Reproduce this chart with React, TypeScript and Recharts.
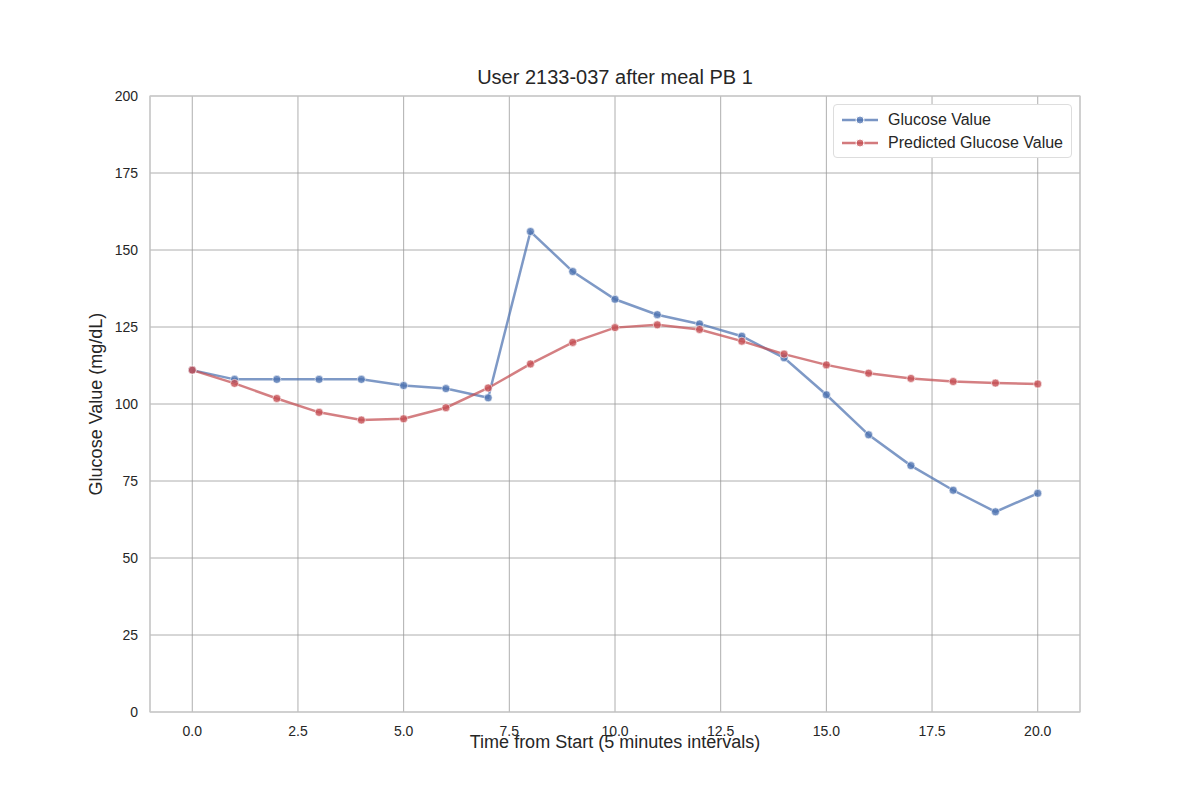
import { CartesianGrid, Line, LineChart, XAxis, YAxis } from "recharts";

const STEPS = [0, 1, 2, 3, 4, 5, 6, 7, 8, 9, 10, 11, 12, 13, 14, 15, 16, 17, 18, 19, 20];
const GLUCOSE = [111, 108, 108, 108, 108, 106, 105, 102, 156, 143, 134, 129, 126, 122, 115, 103, 90, 80, 72, 65, 71];
const PREDICTED = [111, 106.7, 101.8, 97.3, 94.8, 95.2, 98.8, 105.2, 113, 120, 124.8, 125.7, 124.2, 120.4, 116.2, 112.7, 110, 108.3, 107.3, 106.8, 106.5];
const X_TICKS = [0, 2.5, 5, 7.5, 10, 12.5, 15, 17.5, 20];
const Y_TICKS = [0, 25, 50, 75, 100, 125, 150, 175, 200];

const data = STEPS.map((t, i) => ({ t, glucose: GLUCOSE[i], predicted: PREDICTED[i] }));

const FONT = "Arial, 'Liberation Sans', sans-serif";
const TICK = { fill: "#262626", fontSize: 14, fontFamily: FONT };
const BLUE = "#4c72b0";
const RED = "#c44e52";

export default function App() {
  return (
    <div style={{ position: "absolute", left: 0, top: 0, width: 1200, height: 800, background: "#fff", fontFamily: FONT }}>
      <div style={{ position: "absolute", top: 66, width: 1200, textAlign: "center", left: 15, fontSize: 20, color: "#262626" }}>
        User 2133-037 after meal PB 1
      </div>
      <LineChart width={1200} height={800} data={data} margin={{ top: 96, right: 120, bottom: 58, left: 0 }}>
        <CartesianGrid stroke="#9a9a9a" strokeWidth={0.8} />
        <XAxis
          dataKey="t"
          type="number"
          domain={[-1, 21]}
          ticks={X_TICKS}
          tickFormatter={(v) => v.toFixed(1)}
          tick={TICK}
          tickLine={false}
          axisLine={false}
          tickMargin={8}
          height={30}
          label={{ value: "Time from Start (5 minutes intervals)", position: "insideBottom", offset: -6, style: { fill: "#262626", fontSize: 18, fontFamily: FONT } }}
        />
        <YAxis
          domain={[0, 200]}
          ticks={Y_TICKS}
          tick={TICK}
          tickLine={false}
          axisLine={false}
          tickMargin={6}
          width={150}
          label={{ value: "Glucose Value (mg/dL)", angle: -90, position: "insideLeft", offset: 96, style: { fill: "#262626", fontSize: 18, fontFamily: FONT, textAnchor: "middle" } }}
        />
        <rect x={150} y={96} width={930} height={616} fill="none" stroke="#cccccc" strokeWidth={1.2} />
        <Line
          dataKey="glucose"
          stroke={BLUE}
          strokeOpacity={0.72}
          strokeWidth={2.5}
          dot={{ r: 4, fill: BLUE, fillOpacity: 0.8, stroke: "#fff", strokeWidth: 0.8 }}
          isAnimationActive={false}
        />
        <Line
          dataKey="predicted"
          stroke={RED}
          strokeOpacity={0.72}
          strokeWidth={2.5}
          dot={{ r: 4, fill: RED, fillOpacity: 0.8, stroke: "#fff", strokeWidth: 0.8 }}
          isAnimationActive={false}
        />
      </LineChart>
      <div style={{ position: "absolute", top: 104, right: 128, background: "#fff", border: "1px solid #ddd", borderRadius: 4, padding: "3px 8px", fontSize: 16, lineHeight: "23px" }}>
        {[["Glucose Value", BLUE], ["Predicted Glucose Value", RED]].map(([name, c]) => (
          <div key={name} style={{ display: "flex", alignItems: "center", color: "#262626" }}>
            <svg width={36} height={14} style={{ marginRight: 10 }}>
              <line x1={0} y1={7} x2={36} y2={7} stroke={c} strokeOpacity={0.75} strokeWidth={2.5} />
              <circle cx={18} cy={7} r={4} fill={c} fillOpacity={0.75} stroke="#fff" />
            </svg>
            {name}
          </div>
        ))}
      </div>
    </div>
  );
}
